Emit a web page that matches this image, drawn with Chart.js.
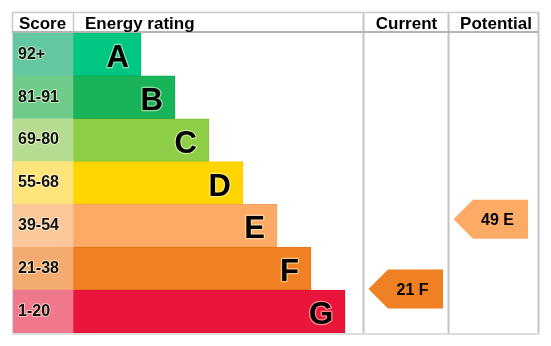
<!DOCTYPE html>
<html><head><meta charset="utf-8">
<script src="https://cdn.jsdelivr.net/npm/chart.js@4"></script>
<style>html,body{margin:0;padding:0;background:#fff}canvas{display:block}</style>
</head><body>
<canvas id="c" width="551" height="346"></canvas>
<script>
// ---- data ----
const ratings = ['A','B','C','D','E','F','G'];
const scoreRanges = ['92+','81-91','69-80','55-68','39-54','21-38','1-20'];
const bandTops = [100,91,80,68,54,38,20];
const bandBottoms = [92,81,69,55,39,21,1];
const barSteps = [2,3,4,5,6,7,8];
const headers = ['Score','Energy rating','Current','Potential'];
const currentScore = 21;
const currentRating = 'F';
const potentialScore = 49;
const potentialRating = 'E';

// ---- styles ----
const ratingColors = ['#00c781','#19b459','#8dce46','#ffd500','#fcaa65','#ef8023','#e9153b'];
const ratingBorders = ['#00b874','#14a650','#80c03c','#f5cc00','#f5a05c','#e4761c','#de0f33'];
const scoreColors = ['#63c8a1','#6fcb8a','#b5dc90','#ffe47c','#fdc79c','#f4ab6f','#f0788d'];

// layout in x-units (1 unit = 1px, 0 = left of rating column)
const STEP = 34;
const COL = {scoreL:-61, ratingL:0, currentL:290, potentialL:375, right:465};
const FONT = '"Liberation Sans", Arial, sans-serif';

// fractional band position (in category units) of a score
function bandPos(score){
  for(let i=0;i<ratings.length;i++){
    if(score>=bandBottoms[i] && score<=bandTops[i]){
      return i - 0.5 + (bandTops[i] + 0.5 - score)/(bandTops[i]-bandBottoms[i]+1);
    }
  }
  return ratings.length-1;
}

const arrows = [
  {col:'currentL', score: currentScore, rating: currentRating},
  {col:'potentialL', score: potentialScore, rating: potentialRating}
];

const tablePlugin = {
  id:'table',
  beforeDraw(chart){
    const ctx = chart.ctx;
    ctx.save(); ctx.fillStyle='#fff'; ctx.fillRect(0,0,chart.width,chart.height); ctx.restore();
  },
  afterDatasetsDraw(chart){
    const ctx = chart.ctx;
    const xs = chart.scales.x, ys = chart.scales.y;
    const area = chart.chartArea;
    const X = v => xs.getPixelForValue(v);
    const y0 = ys.getPixelForValue(0);
    const band = ys.getPixelForValue(1) - y0;
    const Y = p => y0 + p*band;
    const top = area.top - 21;
    ctx.save();
    // grid lines
    ctx.strokeStyle = '#c4c4c4';
    ctx.lineWidth = 2;
    [COL.currentL, COL.potentialL, COL.right].forEach(v=>{
      ctx.beginPath(); ctx.moveTo(Math.round(X(v))+0.5, top); ctx.lineTo(Math.round(X(v))+0.5, area.bottom+1); ctx.stroke();
    });
    ctx.lineWidth = 1.5;
    ctx.strokeStyle = '#c8c8c8';
    [COL.scoreL, COL.ratingL].forEach(v=>{
      ctx.beginPath(); ctx.moveTo(X(v)+0.5, top); ctx.lineTo(X(v)+0.5, area.top); ctx.stroke();
    });
    ctx.strokeStyle = '#d4dae0';
    ctx.lineWidth = 1;
    ctx.beginPath(); ctx.moveTo(X(COL.scoreL)+0.5, area.top); ctx.lineTo(X(COL.scoreL)+0.5, area.bottom); ctx.stroke();
    // top border
    ctx.strokeStyle = '#cccccc'; ctx.lineWidth = 1.5;
    ctx.beginPath(); ctx.moveTo(X(COL.scoreL), top+0.5); ctx.lineTo(X(COL.right)+1, top+0.5); ctx.stroke();
    // header bottom
    ctx.strokeStyle = '#b4b4b4'; ctx.lineWidth = 2;
    ctx.beginPath(); ctx.moveTo(X(COL.scoreL), area.top-1); ctx.lineTo(X(COL.right)+1, area.top-1); ctx.stroke();
    // bottom border
    ctx.strokeStyle = '#dcdcdc'; ctx.lineWidth = 2;
    ctx.beginPath(); ctx.moveTo(X(COL.scoreL), area.bottom+1); ctx.lineTo(X(COL.right)+1, area.bottom+1); ctx.stroke();

    // header text
    ctx.fillStyle = '#000';
    ctx.font = 'bold 17px ' + FONT;
    ctx.textBaseline = 'alphabetic';
    const hb = area.top - 4.5;
    ctx.textAlign = 'center';
    ctx.fillText(headers[0], (X(COL.scoreL)+X(COL.ratingL))/2, hb);
    ctx.textAlign = 'left';
    ctx.fillText(headers[1], X(COL.ratingL)+12, hb);
    ctx.textAlign = 'center';
    ctx.fillText(headers[2], (X(COL.currentL)+X(COL.potentialL))/2+1, hb);
    ctx.fillText(headers[3], (X(COL.potentialL)+X(COL.right))/2+3, hb);

    // rows
    ratings.forEach((r,i)=>{
      const cy = ys.getPixelForValue(i);
      ctx.font = 'bold 16px ' + FONT;
      ctx.textAlign = 'left';
      ctx.lineJoin = 'round';
      ctx.lineWidth = 2;
      ctx.strokeStyle = 'rgba(255,255,225,0.55)';
      ctx.strokeText(scoreRanges[i], X(COL.scoreL)+6, cy+4.3);
      ctx.fillStyle = '#111';
      ctx.fillText(scoreRanges[i], X(COL.scoreL)+6, cy+4.3);
      ctx.font = 'bold 31px ' + FONT;
      ctx.textAlign = 'right';
      const lx = X(barSteps[i]*STEP) - 12;
      ctx.lineWidth = 2.5;
      ctx.strokeStyle = 'rgba(255,255,215,0.5)';
      ctx.strokeText(r, lx, cy+12.5);
      ctx.fillStyle = '#000';
      ctx.fillText(r, lx, cy+12.5);
    });

    // arrows
    arrows.forEach(a=>{
      const pos = bandPos(a.score);
      const cy = Y(pos);
      const h = band*0.91;
      const tip = X(COL[a.col]) + 5.5;
      const bodyL = tip + 19.5;
      const right = tip + 74.5;
      ctx.fillStyle = ratingColors[ratings.indexOf(a.rating)];
      ctx.beginPath();
      ctx.moveTo(tip, cy);
      ctx.lineTo(bodyL, cy-h/2);
      ctx.lineTo(right, cy-h/2);
      ctx.lineTo(right, cy+h/2);
      ctx.lineTo(bodyL, cy+h/2);
      ctx.closePath();
      ctx.fill();
      ctx.fillStyle = '#000';
      ctx.font = 'bold 16px ' + FONT;
      ctx.textAlign = 'center';
      ctx.textBaseline = 'alphabetic';
      ctx.fillText(a.score + ' ' + a.rating, (bodyL+right)/2 - 3, cy + 5.8);
    });
    ctx.restore();
  }
};

new Chart(document.getElementById('c'), {
  type:'bar',
  data:{
    labels: ratings,
    datasets:[
      {
        label:'Score',
        data: ratings.map(()=>[COL.scoreL, COL.ratingL]),
        backgroundColor: scoreColors,
        borderWidth:0,
        grouped:false,
        barPercentage:1, categoryPercentage:1
      },
      {
        label:'Energy rating',
        data: barSteps.map(s=>[COL.ratingL, s*STEP]),
        backgroundColor: ratingColors,
        borderColor: ratingBorders,
        borderWidth:1,
        borderSkipped:'left',
        grouped:false,
        barPercentage:1, categoryPercentage:1
      }
    ]
  },
  options:{
    indexAxis:'y',
    responsive:false,
    animation:false,
    devicePixelRatio:1,
    layout:{padding:{left:12, right:13, top:33, bottom:13}},
    plugins:{legend:{display:false}, tooltip:{enabled:false}},
    scales:{
      x:{type:'linear', min:COL.scoreL, max:COL.right, display:false},
      y:{type:'category', display:false, offset:true}
    }
  },
  plugins:[tablePlugin]
});
</script>
</body></html>
